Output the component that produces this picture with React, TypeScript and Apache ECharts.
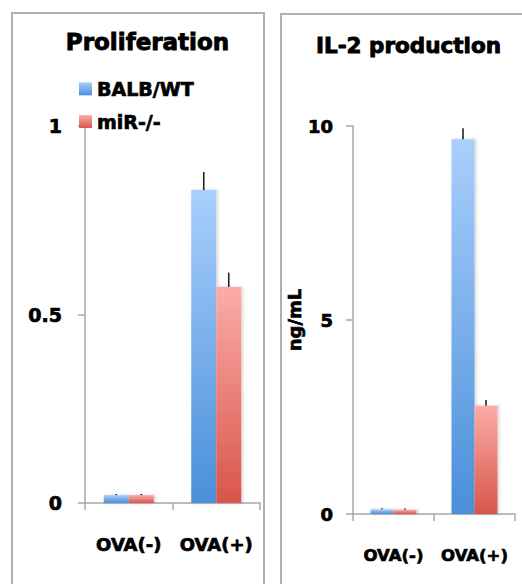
import React, { useEffect, useRef } from "react";
import * as echarts from "echarts";

const categories = ["OVA(-)", "OVA(+)"];
const seriesNames = ["BALB/WT", "miR-/-"];

// Proliferation (left panel)
const prolifWT = [0.021, 0.83];
const prolifWTErr = [0.003, 0.048];
const prolifMiR = [0.021, 0.573];
const prolifMiRErr = [0.003, 0.038];

// IL-2 production (right panel), ng/mL
const il2WT = [0.12, 9.66];
const il2WTErr = [0.03, 0.28];
const il2MiR = [0.11, 2.79];
const il2MiRErr = [0.03, 0.15];

const FONT = "DejaVu Sans";
const HEAVY = { textBorderColor: "#000", textBorderWidth: 0.7 };

const blueGrad = () =>
  new echarts.graphic.LinearGradient(0, 0, 0, 1, [
    { offset: 0, color: "#a9cffc" },
    { offset: 1, color: "#4a8fda" },
  ]);
const redGrad = () =>
  new echarts.graphic.LinearGradient(0, 0, 0, 1, [
    { offset: 0, color: "#fcaca8" },
    { offset: 1, color: "#d8554b" },
  ]);

function errSeries(
  name: string,
  xAxisIndex: number,
  vals: number[],
  errs: number[],
  offset: number
) {
  return {
    type: "custom",
    name,
    xAxisIndex,
    yAxisIndex: xAxisIndex,
    z: 5,
    data: vals.map((v, i) => [i, v, errs[i]]),
    renderItem: (params: any, api: any) => {
      const cat = api.value(0);
      const v = api.value(1);
      const e = api.value(2);
      const p0 = api.coord([cat, v]);
      const p1 = api.coord([cat, v + e]);
      return {
        type: "line",
        shape: { x1: p0[0] + offset, y1: p0[1], x2: p0[0] + offset, y2: p1[1] },
        style: { stroke: "#222", lineWidth: 1.6 },
      };
    },
  };
}

export default function App() {
  const ref = useRef<HTMLDivElement>(null);
  useEffect(() => {
    if (!ref.current) return;
    const chart = echarts.init(ref.current, null, { renderer: "svg" });
    const axisColor = "#a8a8a8";
    const barShadow = {
      shadowColor: "rgba(0,0,0,0.18)",
      shadowBlur: 3,
      shadowOffsetX: 1.5,
    };
    const option: any = {
      animation: false,
      backgroundColor: "#ffffff",
      textStyle: { fontFamily: FONT },
      graphic: [
        {
          type: "rect",
          shape: { x: 12, y: 13, width: 252, height: 620 },
          style: { fill: "none", stroke: "#b0b0b0", lineWidth: 2 },
          silent: true,
        },
        {
          type: "rect",
          shape: { x: 281, y: 14, width: 300, height: 620 },
          style: { fill: "none", stroke: "#b0b0b0", lineWidth: 2 },
          silent: true,
        },
        {
          type: "text",
          x: 147.5,
          y: 42,
          style: {
            text: "Proliferation",
            fontFamily: FONT,
            fontWeight: "bold",
            fontSize: 23,
            fill: "#000",
            stroke: "#000",
            lineWidth: 0.9,
            align: "center",
            verticalAlign: "middle",
          },
        },
        {
          type: "text",
          x: 408.5,
          y: 45,
          style: {
            text: "IL-2 production",
            fontFamily: FONT,
            fontWeight: "bold",
            fontSize: 21.5,
            fill: "#000",
            stroke: "#000",
            lineWidth: 0.9,
            align: "center",
            verticalAlign: "middle",
          },
        },
      ],
      legend: {
        data: seriesNames,
        orient: "vertical",
        left: 79,
        top: 79,
        itemWidth: 13,
        itemHeight: 13,
        itemGap: 13,
        padding: 0,
        icon: "rect",
        textStyle: {
          fontFamily: FONT,
          fontWeight: "bold",
          fontSize: 19,
          color: "#000",
          lineHeight: 14,
          ...HEAVY,
        },
      },
      grid: [
        { left: 85, top: 126, width: 175, height: 377 },
        { left: 353, top: 126, width: 162, height: 388 },
      ],
      xAxis: [0, 1].map((i) => ({
        type: "category",
        gridIndex: i,
        data: categories,
        axisLine: { lineStyle: { color: axisColor, width: 1.5 } },
        axisTick: { show: true, length: 7, lineStyle: { color: axisColor, width: 1.5 } },
        axisLabel: {
          interval: 0,
          fontFamily: FONT,
          fontWeight: "bold",
          fontSize: i === 0 ? 18 : 16.5,
          color: "#000",
          margin: i === 0 ? 32 : 33,
          ...HEAVY,
        },
      })),
      yAxis: [
        {
          type: "value",
          gridIndex: 0,
          min: 0,
          max: 1,
          interval: 0.5,
          splitLine: { show: false },
          axisLine: { show: true, lineStyle: { color: axisColor, width: 1.5 } },
          axisTick: { show: true, length: 7, lineStyle: { color: axisColor, width: 1.5 } },
          axisLabel: {
            fontFamily: FONT,
            fontWeight: "bold",
            fontSize: 19,
            color: "#000",
            margin: 23,
            ...HEAVY,
          },
        },
        {
          type: "value",
          gridIndex: 1,
          min: 0,
          max: 10,
          interval: 5,
          name: "ng/mL",
          nameLocation: "middle",
          nameGap: 49,
          nameRotate: 90,
          nameTextStyle: {
            fontFamily: FONT,
            fontWeight: "bold",
            fontSize: 18,
            color: "#000",
            ...HEAVY,
          },
          splitLine: { show: false },
          axisLine: { show: true, lineStyle: { color: axisColor, width: 1.5 } },
          axisTick: { show: true, length: 7, lineStyle: { color: axisColor, width: 1.5 } },
          axisLabel: {
            fontFamily: FONT,
            fontWeight: "bold",
            fontSize: 18,
            color: "#000",
            margin: 20,
            ...HEAVY,
          },
        },
      ],
      series: [
        {
          type: "bar",
          name: seriesNames[0],
          xAxisIndex: 0,
          yAxisIndex: 0,
          data: prolifWT,
          barWidth: 25,
          barGap: "0%",
          itemStyle: { color: blueGrad(), ...barShadow },
        },
        {
          type: "bar",
          name: seriesNames[1],
          xAxisIndex: 0,
          yAxisIndex: 0,
          data: prolifMiR,
          barWidth: 25,
          barGap: "0%",
          itemStyle: { color: redGrad(), ...barShadow },
        },
        {
          type: "bar",
          name: seriesNames[0],
          xAxisIndex: 1,
          yAxisIndex: 1,
          data: il2WT,
          barWidth: 23,
          barGap: "0%",
          itemStyle: { color: blueGrad(), ...barShadow },
        },
        {
          type: "bar",
          name: seriesNames[1],
          xAxisIndex: 1,
          yAxisIndex: 1,
          data: il2MiR,
          barWidth: 23,
          barGap: "0%",
          itemStyle: { color: redGrad(), ...barShadow },
        },
        errSeries("errProlifWT", 0, prolifWT, prolifWTErr, -12.5),
        errSeries("errProlifMiR", 0, prolifMiR, prolifMiRErr, 12.5),
        errSeries("errIl2WT", 1, il2WT, il2WTErr, -11.5),
        errSeries("errIl2MiR", 1, il2MiR, il2MiRErr, 11.5),
      ],
    };
    chart.setOption(option);
    return () => chart.dispose();
  }, []);
  return (
    <div
      ref={ref}
      style={{ position: "fixed", left: 0, top: 0, width: 522, height: 584 }}
    />
  );
}
